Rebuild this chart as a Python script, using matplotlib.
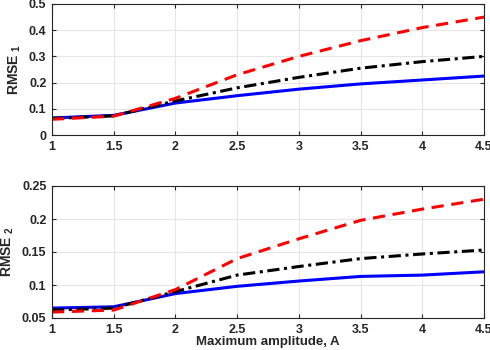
import numpy as np
import matplotlib.pyplot as plt

plt.rcParams['font.family'] = ['Liberation Sans', 'DejaVu Sans']
plt.rcParams['font.weight'] = 'bold'
plt.rcParams['axes.labelweight'] = 'bold'

# Maximum amplitude values
A = [1, 1.5, 2, 2.5, 3, 3.5, 4, 4.5]

# RMSE 1
rmse1_blue = [0.065, 0.075, 0.122, 0.150, 0.175, 0.195, 0.210, 0.225]
rmse1_black = [0.063, 0.073, 0.130, 0.180, 0.220, 0.255, 0.280, 0.300]
rmse1_red = [0.060, 0.072, 0.140, 0.230, 0.300, 0.360, 0.410, 0.450]

# RMSE 2
rmse2_blue = [0.065, 0.067, 0.087, 0.098, 0.106, 0.113, 0.115, 0.120]
rmse2_black = [0.062, 0.065, 0.090, 0.115, 0.128, 0.140, 0.147, 0.153]
rmse2_red = [0.059, 0.062, 0.093, 0.140, 0.170, 0.198, 0.215, 0.230]

fig = plt.figure(figsize=(4.9, 3.5), dpi=100)
ax1 = fig.add_axes([52/490, 1 - 135/350, 432/490, 131/350])
ax2 = fig.add_axes([52/490, 1 - 318/350, 432/490, 132/350])

def style(ax):
    ax.grid(True, color='#e6e6e6', linewidth=0.8)
    ax.set_axisbelow(True)
    for s in ax.spines.values():
        s.set_color('#262626')
        s.set_linewidth(0.8)
    ax.tick_params(direction='in', length=3, colors='#262626', labelsize=9,
                   top=True, right=True, pad=4)
    ax.set_xlim(1, 4.5)
    ax.set_xticks([1, 1.5, 2, 2.5, 3, 3.5, 4, 4.5])
    ax.set_xticklabels(['1', '1.5', '2', '2.5', '3', '3.5', '4', '4.5'])

ax1.plot(A, rmse1_blue, color='#0000ff', linewidth=2.2)
ax1.plot(A, rmse1_black, color='black', linewidth=2.2, linestyle=(0, (4, 1.5, 1, 1.5)))
ax1.plot(A, rmse1_red, color='#ff0000', linewidth=2.2, linestyle=(0, (4, 2.5)))
style(ax1)
ax1.set_ylim(0, 0.5)
ax1.set_yticks([0, 0.1, 0.2, 0.3, 0.4, 0.5])
ax1.set_yticklabels(['0', '0.1', '0.2', '0.3', '0.4', '0.5'])
ax1.set_ylabel(r'RMSE$_{\ \mathregular{1}}$', fontsize=10, color='#262626')

ax2.plot(A, rmse2_blue, color='#0000ff', linewidth=2.2)
ax2.plot(A, rmse2_black, color='black', linewidth=2.2, linestyle=(0, (4, 1.5, 1, 1.5)))
ax2.plot(A, rmse2_red, color='#ff0000', linewidth=2.2, linestyle=(0, (4, 2.5)))
style(ax2)
ax2.set_ylim(0.05, 0.25)
ax2.set_yticks([0.05, 0.1, 0.15, 0.2, 0.25])
ax2.set_yticklabels(['0.05', '0.1', '0.15', '0.2', '0.25'])
ax2.set_ylabel(r'RMSE$_{\ \mathregular{2}}$', fontsize=10, color='#262626')
ax2.set_xlabel('Maximum amplitude, A', fontsize=9.5, color='#262626', labelpad=0)

fig.savefig('out.png', dpi=100)
